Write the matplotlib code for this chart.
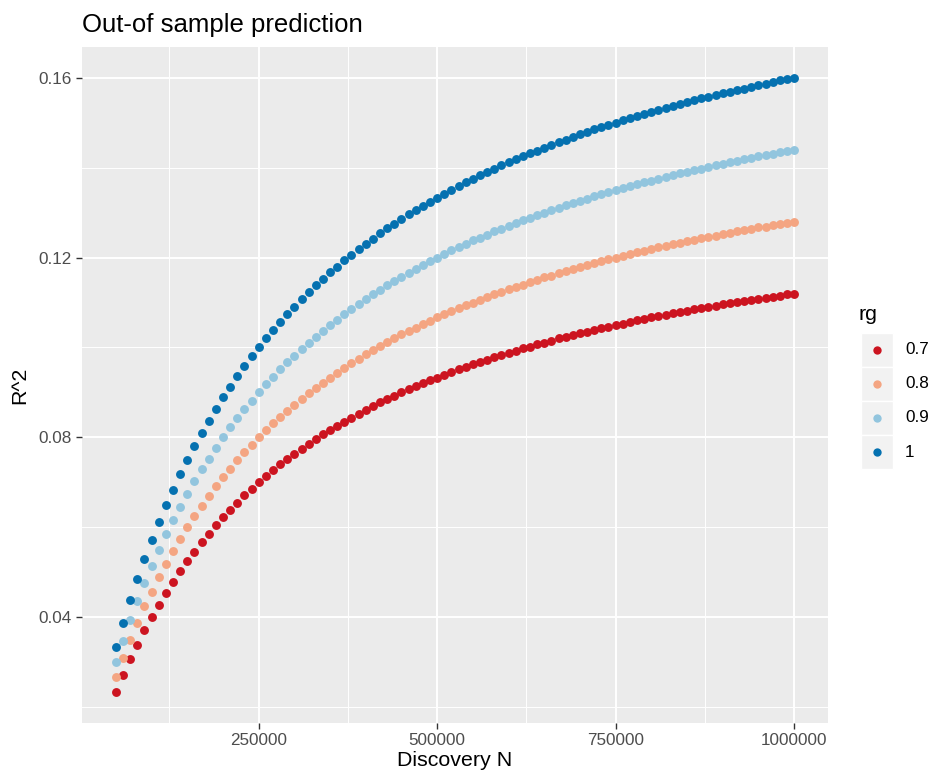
import matplotlib
matplotlib.use("Agg")
import matplotlib.pyplot as plt
from matplotlib.patches import Rectangle
from matplotlib.ticker import FixedLocator, FuncFormatter

plt.rcParams['font.family'] = ['Liberation Sans', 'DejaVu Sans']

# discovery sample sizes (50k to 1M, step 10k)
discovery_n = list(range(50000, 1000001, 10000))

# R^2 values, one list per rg level
r2_rg07 = [
    0.0233, 0.0271, 0.0306, 0.0339, 0.0371, 0.0400, 0.0428, 0.0454, 0.0479, 0.0503,
    0.0525, 0.0546, 0.0567, 0.0586, 0.0605, 0.0622, 0.0639, 0.0655, 0.0671, 0.0686,
    0.0700, 0.0714, 0.0727, 0.0740, 0.0752, 0.0764, 0.0775, 0.0786, 0.0797, 0.0807,
    0.0817, 0.0826, 0.0835, 0.0844, 0.0853, 0.0862, 0.0870, 0.0878, 0.0885, 0.0893,
    0.0900, 0.0907, 0.0914, 0.0921, 0.0927, 0.0933, 0.0939, 0.0945, 0.0951, 0.0957,
    0.0963, 0.0968, 0.0973, 0.0978, 0.0983, 0.0988, 0.0993, 0.0998, 0.1002, 0.1007,
    0.1011, 0.1015, 0.1020, 0.1024, 0.1028, 0.1032, 0.1035, 0.1039, 0.1043, 0.1046,
    0.1050, 0.1053, 0.1057, 0.1060, 0.1063, 0.1067, 0.1070, 0.1073, 0.1076, 0.1079,
    0.1082, 0.1085, 0.1088, 0.1090, 0.1093, 0.1096, 0.1098, 0.1101, 0.1103, 0.1106,
    0.1108, 0.1111, 0.1113, 0.1115, 0.1118, 0.1120,
]
r2_rg08 = [
    0.0267, 0.0310, 0.0350, 0.0388, 0.0424, 0.0457, 0.0489, 0.0519, 0.0547, 0.0574,
    0.0600, 0.0624, 0.0648, 0.0670, 0.0691, 0.0711, 0.0730, 0.0749, 0.0767, 0.0784,
    0.0800, 0.0816, 0.0831, 0.0845, 0.0859, 0.0873, 0.0886, 0.0898, 0.0910, 0.0922,
    0.0933, 0.0944, 0.0955, 0.0965, 0.0975, 0.0985, 0.0994, 0.1003, 0.1012, 0.1020,
    0.1029, 0.1037, 0.1044, 0.1052, 0.1059, 0.1067, 0.1074, 0.1081, 0.1087, 0.1094,
    0.1100, 0.1106, 0.1112, 0.1118, 0.1124, 0.1129, 0.1135, 0.1140, 0.1145, 0.1151,
    0.1156, 0.1160, 0.1165, 0.1170, 0.1174, 0.1179, 0.1183, 0.1188, 0.1192, 0.1196,
    0.1200, 0.1204, 0.1208, 0.1212, 0.1215, 0.1219, 0.1223, 0.1226, 0.1230, 0.1233,
    0.1236, 0.1240, 0.1243, 0.1246, 0.1249, 0.1252, 0.1255, 0.1258, 0.1261, 0.1264,
    0.1267, 0.1269, 0.1272, 0.1275, 0.1277, 0.1280,
]
r2_rg09 = [
    0.0300, 0.0348, 0.0394, 0.0436, 0.0476, 0.0514, 0.0550, 0.0584, 0.0616, 0.0646,
    0.0675, 0.0702, 0.0729, 0.0753, 0.0777, 0.0800, 0.0822, 0.0843, 0.0863, 0.0882,
    0.0900, 0.0918, 0.0935, 0.0951, 0.0967, 0.0982, 0.0996, 0.1011, 0.1024, 0.1037,
    0.1050, 0.1062, 0.1074, 0.1086, 0.1097, 0.1108, 0.1118, 0.1128, 0.1138, 0.1148,
    0.1157, 0.1166, 0.1175, 0.1184, 0.1192, 0.1200, 0.1208, 0.1216, 0.1223, 0.1230,
    0.1238, 0.1244, 0.1251, 0.1258, 0.1264, 0.1271, 0.1277, 0.1283, 0.1289, 0.1294,
    0.1300, 0.1305, 0.1311, 0.1316, 0.1321, 0.1326, 0.1331, 0.1336, 0.1341, 0.1345,
    0.1350, 0.1354, 0.1359, 0.1363, 0.1367, 0.1371, 0.1375, 0.1379, 0.1383, 0.1387,
    0.1391, 0.1395, 0.1398, 0.1402, 0.1405, 0.1409, 0.1412, 0.1415, 0.1419, 0.1422,
    0.1425, 0.1428, 0.1431, 0.1434, 0.1437, 0.1440,
]
r2_rg10 = [
    0.0333, 0.0387, 0.0438, 0.0485, 0.0529, 0.0571, 0.0611, 0.0649, 0.0684, 0.0718,
    0.0750, 0.0780, 0.0810, 0.0837, 0.0864, 0.0889, 0.0913, 0.0936, 0.0958, 0.0980,
    0.1000, 0.1020, 0.1038, 0.1057, 0.1074, 0.1091, 0.1107, 0.1123, 0.1138, 0.1153,
    0.1167, 0.1180, 0.1194, 0.1206, 0.1219, 0.1231, 0.1242, 0.1254, 0.1265, 0.1275,
    0.1286, 0.1296, 0.1306, 0.1315, 0.1324, 0.1333, 0.1342, 0.1351, 0.1359, 0.1367,
    0.1375, 0.1383, 0.1390, 0.1398, 0.1405, 0.1412, 0.1419, 0.1425, 0.1432, 0.1438,
    0.1444, 0.1451, 0.1457, 0.1462, 0.1468, 0.1474, 0.1479, 0.1485, 0.1490, 0.1495,
    0.1500, 0.1505, 0.1510, 0.1515, 0.1519, 0.1524, 0.1528, 0.1533, 0.1537, 0.1541,
    0.1545, 0.1550, 0.1554, 0.1558, 0.1561, 0.1565, 0.1569, 0.1573, 0.1576, 0.1580,
    0.1583, 0.1587, 0.1590, 0.1594, 0.1597, 0.1600,
]

rg_labels = ['0.7', '0.8', '0.9', '1']
rg_series = [r2_rg07, r2_rg08, r2_rg09, r2_rg10]
rg_colors = ['#CC1420', '#F4A582', '#92C5DE', '#0571B0']

x_major = [250000, 500000, 750000, 1000000]
x_minor = [125000, 375000, 625000, 875000]
y_major = [0.04, 0.08, 0.12, 0.16]
y_minor = [0.02, 0.06, 0.10, 0.14]

W, H = 931, 776
fig = plt.figure(figsize=(W / 100, H / 100), dpi=100)


def fx(px):
    return px / W


def fy(py):
    return 1 - py / H


# panel in pixels: left 82, right 828, top 47, bottom 723
ax = fig.add_axes([fx(82), fy(723), fx(828) - fx(82), fy(47) - fy(723)])
ax.set_facecolor('#EBEBEB')
for s in ax.spines.values():
    s.set_visible(False)

for vals, col in zip(rg_series, rg_colors):
    ax.scatter(discovery_n, vals, s=41, color=col, linewidths=0, zorder=3)

# ggplot-like 5% expansion
xr = discovery_n[-1] - discovery_n[0]
ax.set_xlim(discovery_n[0] - 0.05 * xr, discovery_n[-1] + 0.05 * xr)
ymin = min(r2_rg07)
ymax = max(r2_rg10)
yr = ymax - ymin
ax.set_ylim(ymin - 0.05 * yr, ymax + 0.05 * yr)

ax.xaxis.set_major_locator(FixedLocator(x_major))
ax.xaxis.set_minor_locator(FixedLocator(x_minor))
ax.yaxis.set_major_locator(FixedLocator(y_major))
ax.yaxis.set_minor_locator(FixedLocator(y_minor))
ax.xaxis.set_major_formatter(FuncFormatter(lambda v, p: '%d' % v))
ax.yaxis.set_major_formatter(FuncFormatter(lambda v, p: '%.2f' % v))

ax.grid(which='major', color='white', linewidth=1.4, zorder=1)
ax.grid(which='minor', color='white', linewidth=0.7, zorder=1)
ax.set_axisbelow(True)

ax.tick_params(which='major', length=4, width=1.0, color='#333333',
               labelsize=12.3, labelcolor='#4D4D4D', pad=3.5)
ax.tick_params(which='minor', length=0)

# labels and title
fig.text(fx(455), fy(760), 'Discovery N', fontsize=15.4, ha='center', va='center')
fig.text(fx(20), fy(385), 'R^2', fontsize=15.4, ha='center', va='center', rotation=90)
fig.text(fx(82), fy(32), 'Out-of sample prediction', fontsize=18.5, ha='left', va='baseline')

# legend
fig.text(fx(859), fy(315), 'rg', fontsize=15.4, ha='left', va='center')
key_top = 333
key_h = 34
for i, (lab, col) in enumerate(zip(rg_labels, rg_colors)):
    top = key_top + i * key_h
    fig.add_artist(Rectangle((fx(861), fy(top + key_h)), fx(893) - fx(861),
                             fy(top) - fy(top + key_h), transform=fig.transFigure,
                             facecolor='#F2F2F2', edgecolor='white', linewidth=1))
    cy = top + key_h / 2
    fig.add_artist(plt.Line2D([fx(877)], [fy(cy)], marker='o', markersize=6,
                              color=col, markeredgewidth=0, transform=fig.transFigure))
    fig.text(fx(905), fy(cy), lab, fontsize=12.3, ha='left', va='center')

fig.savefig('out.png', dpi=100)
